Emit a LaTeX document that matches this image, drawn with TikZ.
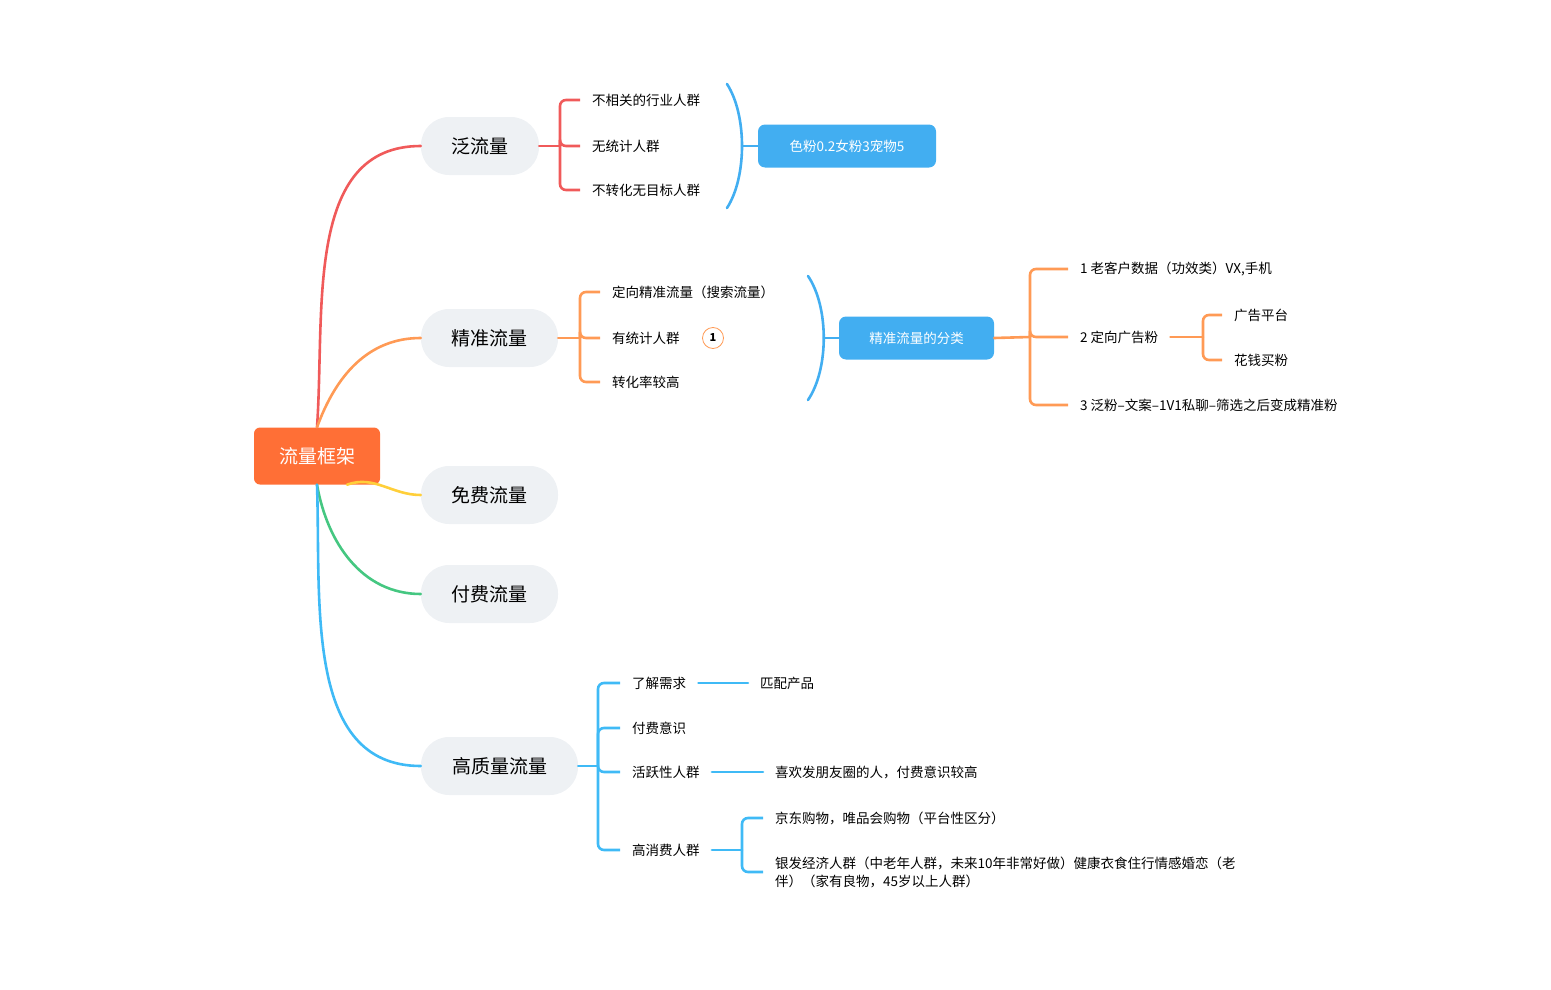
\documentclass[tikz,border=0pt]{standalone}
\usepackage{fontspec}
\setmainfont{Noto Sans CJK SC}
\usetikzlibrary{positioning}
\definecolor{cRed}{HTML}{F05A5A}
\definecolor{cOrange}{HTML}{FF9A55}
\definecolor{cYellow}{HTML}{FFCF3A}
\definecolor{cGreen}{HTML}{45C781}
\definecolor{cBlue}{HTML}{3FBAF6}
\definecolor{cBox}{HTML}{42AEF1}
\definecolor{cRoot}{HTML}{FF6F36}
\definecolor{cPill}{HTML}{EEF1F4}
\begin{document}
\begin{tikzpicture}[x=1pt,y=-1pt,
    line/.style={line width=2.6pt, line cap=round},
    elbow/.style={line width=2.6pt, rounded corners=6pt},
    topic/.style={fill=cPill, rounded corners=28pt, minimum height=58pt, inner xsep=0pt,
        font=\fontsize{19}{19}\selectfont},
    leaf/.style={anchor=west, inner xsep=12pt, inner ysep=2pt, font=\fontsize{13.5}{18}\selectfont},
    bluebox/.style={fill=cBox, rounded corners=7pt, text=white, minimum height=43pt,
        font=\fontsize{13.5}{14}\selectfont}]

    % -------------------------
    % Canvas
    % -------------------------
    \useasboundingbox (0,0) rectangle (1551,990);

    % -------------------------
    % Root and topics
    % -------------------------
    \node[fill=cRoot, rounded corners=6pt, minimum width=126pt, minimum height=57pt, text=white,
        font=\fontsize{19}{19}\selectfont] (root) at (317,456) {流量框架};
    \node[topic, minimum width=118pt] (fan) at (480,146) {泛流量};
    \node[topic, minimum width=137pt] (jing) at (489.5,338) {精准流量};
    \node[topic, minimum width=137pt] (mian) at (489.5,495) {免费流量};
    \node[topic, minimum width=137pt] (fu) at (489.5,594) {付费流量};
    \node[topic, minimum width=157pt] (gao) at (499.5,766) {高质量流量};

    \draw[line, cRed] (root.north) to[out=86,in=180] (fan.west);
    \draw[line, cOrange] (root.north) to[out=70,in=180] (jing.west);
    \draw[line, cYellow] ([xshift=30]root.south) to[out=20,in=180] (mian.west);
    \draw[line, cGreen] (root.south) to[out=-80,in=180] (fu.west);
    \draw[line, cBlue] (root.south) to[out=-88,in=180] (gao.west);

    % -------------------------
    % 泛流量
    % -------------------------
    \node[leaf] (f1) at (580,100) {不相关的行业人群};
    \node[leaf] (f2) at (580,146) {无统计人群};
    \node[leaf] (f3) at (580,190) {不转化无目标人群};
    \coordinate (fj) at (560,146);
    \draw[line, cRed] (fan.east) -- (fj);
    \foreach \n in {f1,f2,f3} \draw[elbow, cRed] (fj) |- (\n.west);
    \coordinate (fa) at (727,84);
    \coordinate (fb) at (727,208);
    \coordinate (fm) at (742,146);
    \draw[line, cBox] (fa) .. controls (747,115) and (747,177) .. (fb);
    \node[bluebox, minimum width=178pt] (fbox) at (847,146) {色粉0.2女粉3宠物5};
    \draw[line, cBox] (fm) -- (fbox.west);

    % -------------------------
    % 精准流量
    % -------------------------
    \node[leaf] (j1) at (600,292) {定向精准流量（搜索流量）};
    \node[leaf] (j2) at (600,338) {有统计人群};
    \node[leaf] (j3) at (600,382) {转化率较高};
    \node[circle, draw=cOrange, line width=0.8pt, minimum size=21pt, inner sep=0pt,
        font=\fontsize{11}{11}\selectfont\bfseries] (badge) at (713,338) {1};
    \coordinate (jj) at (580,338);
    \draw[line, cOrange] (jing.east) -- (jj);
    \foreach \n in {j1,j2,j3} \draw[elbow, cOrange] (jj) |- (\n.west);
    \coordinate (ja) at (808,276);
    \coordinate (jb) at (808,400);
    \coordinate (jm) at (824,338);
    \draw[line, cBox] (ja) .. controls (829,307) and (829,369) .. (jb);
    \node[bluebox, minimum width=155pt] (jbox) at (916.5,338) {精准流量的分类};
    \draw[line, cBox] (jm) -- (jbox.west);

    \node[leaf] (k1) at (1068,269) {1 老客户数据（功效类）VX,手机};
    \node[leaf] (k2) at (1068,337) {2 定向广告粉};
    \node[leaf] (k3) at (1068,405) {3 泛粉--文案--1V1私聊--筛选之后变成精准粉};
    \coordinate (kj) at (1030,337);
    \draw[line, cOrange] (jbox.east) -- (kj);
    \foreach \n in {k1,k2,k3} \draw[elbow, cOrange] (kj) |- (\n.west);
    \node[leaf] (m1) at (1222,315) {广告平台};
    \node[leaf] (m2) at (1222,360) {花钱买粉};
    \coordinate (mj) at (1203,337);
    \draw[line, cOrange] (k2.east) -- (mj);
    \foreach \n in {m1,m2} \draw[elbow, cOrange] (mj) |- (\n.west);

    % -------------------------
    % 高质量流量
    % -------------------------
    \node[leaf] (g1) at (620,683) {了解需求};
    \node[leaf] (g2) at (620,728) {付费意识};
    \node[leaf] (g3) at (620,772) {活跃性人群};
    \node[leaf] (g4) at (620,850) {高消费人群};
    \coordinate (gj) at (598,766);
    \draw[line, cBlue] (gao.east) -- (gj);
    \foreach \n in {g1,g2,g3,g4} \draw[elbow, cBlue] (gj) |- (\n.west);

    \node[leaf] (h1) at (748,683) {匹配产品};
    \draw[line, cBlue] (g1.east) -- (h1.west);
    \node[leaf] (h2) at (763,772) {喜欢发朋友圈的人，付费意识较高};
    \draw[line, cBlue] (g3.east) -- (h2.west);

    \node[leaf] (h3) at (763,818) {京东购物，唯品会购物（平台性区分）};
    \node[leaf, align=left] (h4) at (763,872) {银发经济人群（中老年人群，未来10年非常好做）健康衣食住行情感婚恋（老\\伴）（家有良物，45岁以上人群）};
    \coordinate (hj) at (742,850);
    \draw[line, cBlue] (g4.east) -- (hj);
    \draw[elbow, cBlue] (hj) |- (h3.west);
    \draw[elbow, cBlue] (hj) |- (h4.west);

\end{tikzpicture}
\end{document}
